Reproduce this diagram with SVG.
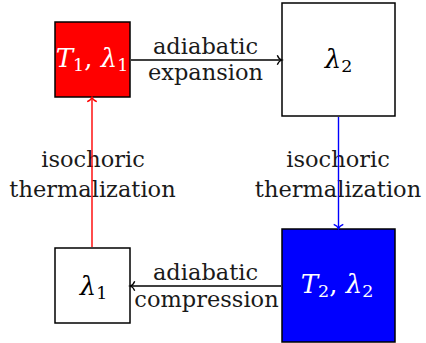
<svg xmlns="http://www.w3.org/2000/svg" width="426" height="343" viewBox="0 0 426 343">
<style>
.box{stroke:#000;stroke-width:1.5}
.lbl{font-family:"DejaVu Serif",serif;font-size:22.5px;fill:#1a1a1a;text-anchor:middle}
.math{font-family:"DejaVu Serif",serif;font-size:26px;text-anchor:middle}
.it{font-style:italic}
.sub{font-size:17.5px}
.conn{fill:none;stroke-width:1.4}
</style>
<defs>
<marker id="ak" markerUnits="userSpaceOnUse" markerWidth="12" markerHeight="12" viewBox="-6 -6 12 12" refX="0" refY="0" orient="auto"><path d="M -4.2,-4.8 C -3,-1.8 -1,-0.4 0.3,0 C -1,0.4 -3,1.8 -4.2,4.8" fill="none" stroke="#000" stroke-width="1.3"/></marker>
<marker id="ar" markerUnits="userSpaceOnUse" markerWidth="12" markerHeight="12" viewBox="-6 -6 12 12" refX="0" refY="0" orient="auto"><path d="M -4.2,-4.8 C -3,-1.8 -1,-0.4 0.3,0 C -1,0.4 -3,1.8 -4.2,4.8" fill="none" stroke="#f00" stroke-width="1.3"/></marker>
<marker id="ab" markerUnits="userSpaceOnUse" markerWidth="12" markerHeight="12" viewBox="-6 -6 12 12" refX="0" refY="0" orient="auto"><path d="M -4.2,-4.8 C -3,-1.8 -1,-0.4 0.3,0 C -1,0.4 -3,1.8 -4.2,4.8" fill="none" stroke="#00f" stroke-width="1.3"/></marker>
</defs>
<g id="hot">
<rect class="box" x="55" y="22" width="75" height="75" fill="#ff0000"/>
<text class="math" x="92" y="67" fill="#fff"><tspan class="it">T</tspan><tspan class="sub" dy="4">1</tspan><tspan dy="-4">, </tspan><tspan class="it">λ</tspan><tspan class="sub" dy="4">1</tspan></text>
</g>
<g id="expanded">
<rect class="box" x="282" y="3" width="113" height="113" fill="#fff"/>
<text class="math" x="338.5" y="68" fill="#000"><tspan class="it">λ</tspan><tspan class="sub" dy="4">2</tspan></text>
</g>
<g id="cold">
<rect class="box" x="282" y="229" width="113" height="113" fill="#0000ff"/>
<text class="math" x="337" y="293" fill="#fff"><tspan class="it">T</tspan><tspan class="sub" dy="4">2</tspan><tspan dy="-4">, </tspan><tspan class="it">λ</tspan><tspan class="sub" dy="4">2</tspan></text>
</g>
<g id="compressed">
<rect class="box" x="55" y="248" width="75" height="75" fill="#fff"/>
<text class="math" x="93.5" y="295" fill="#000"><tspan class="it">λ</tspan><tspan class="sub" dy="4">1</tspan></text>
</g>
<g id="labels">
<text class="lbl" x="205.5" y="54">adiabatic</text>
<text class="lbl" x="205.5" y="80">expansion</text>
<text class="lbl" x="93" y="167">isochoric</text>
<text class="lbl" x="92.5" y="197">thermalization</text>
<text class="lbl" x="338" y="167">isochoric</text>
<text class="lbl" x="338" y="197">thermalization</text>
<text class="lbl" x="205.5" y="280">adiabatic</text>
<text class="lbl" x="206.5" y="306.5">compression</text>
</g>
<g id="connectors">
<line class="conn" x1="131" y1="60" x2="281.5" y2="60" stroke="#000" marker-end="url(#ak)"/>
<line class="conn" x1="338.5" y1="117" x2="338.5" y2="228.5" stroke="#00f" marker-end="url(#ab)"/>
<line class="conn" x1="281" y1="286" x2="130.5" y2="286" stroke="#000" marker-end="url(#ak)"/>
<line class="conn" x1="92" y1="247" x2="92" y2="97.5" stroke="#f00" marker-end="url(#ar)"/>
</g>
</svg>
